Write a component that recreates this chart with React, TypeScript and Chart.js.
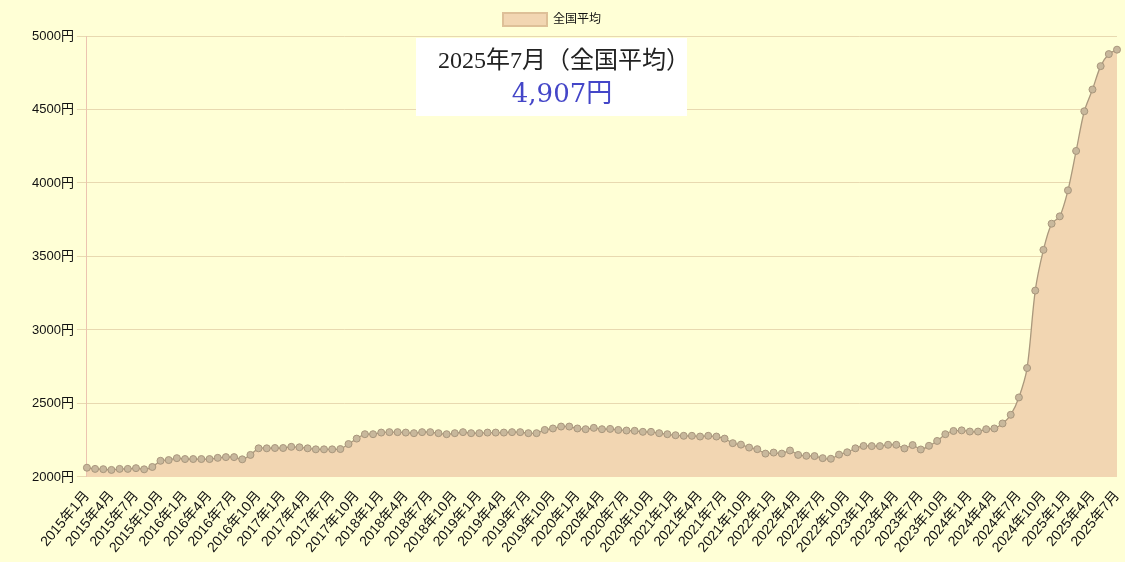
import React, { useEffect, useRef } from "react";
import { Chart, registerables } from "chart.js";

Chart.register(...registerables);

const SERIES_LABEL = "全国平均";
const YEARS = [2015, 2016, 2017, 2018, 2019, 2020, 2021, 2022, 2023, 2024, 2025];
const MONTHS = [1, 2, 3, 4, 5, 6, 7, 8, 9, 10, 11, 12];
const LAST_MONTH_2025 = 7;

const CATEGORIES: string[] = [];
YEARS.forEach((y) => {
  MONTHS.forEach((m) => {
    if (y === 2025 && m > LAST_MONTH_2025) return;
    CATEGORIES.push(`${y}年${m}月`);
  });
});

// 全国平均 (円)
const PRICES_2015 = [2063, 2055, 2053, 2048, 2055, 2055, 2060, 2052, 2068, 2110, 2115, 2128];
const PRICES_2016 = [2122, 2122, 2122, 2122, 2130, 2135, 2135, 2120, 2150, 2195, 2195, 2197];
const PRICES_2017 = [2197, 2205, 2202, 2195, 2188, 2188, 2188, 2190, 2224, 2261, 2291, 2291];
const PRICES_2018 = [2302, 2305, 2305, 2302, 2298, 2305, 2305, 2298, 2291, 2298, 2305, 2298];
const PRICES_2019 = [2298, 2302, 2302, 2302, 2305, 2305, 2298, 2298, 2320, 2330, 2343, 2343];
const PRICES_2020 = [2330, 2325, 2334, 2325, 2327, 2320, 2316, 2314, 2307, 2307, 2298, 2291];
const PRICES_2021 = [2284, 2280, 2280, 2275, 2280, 2275, 2261, 2230, 2220, 2200, 2189, 2159];
const PRICES_2022 = [2166, 2159, 2180, 2150, 2144, 2142, 2128, 2124, 2152, 2168, 2195, 2211];
const PRICES_2023 = [2210, 2210, 2219, 2219, 2194, 2217, 2187, 2212, 2245, 2291, 2313, 2317];
const PRICES_2024 = [2309, 2309, 2325, 2330, 2364, 2423, 2541, 2741, 3268, 3545, 3723, 3773];
const PRICES_2025 = [3950, 4218, 4488, 4636, 4795, 4877, 4907];

const PRICES = [
  ...PRICES_2015, ...PRICES_2016, ...PRICES_2017, ...PRICES_2018, ...PRICES_2019,
  ...PRICES_2020, ...PRICES_2021, ...PRICES_2022, ...PRICES_2023, ...PRICES_2024, ...PRICES_2025,
];

const Y_MIN = 2000;
const Y_MAX = 5000;
const Y_STEP = 500;
const Y_UNIT = "円";
const X_LABEL_EVERY = 3;

const CALLOUT_TITLE = "2025年7月（全国平均）";
const CALLOUT_VALUE = "4,907円";

const SANS = '"Liberation Sans", Arial, "Noto Sans CJK JP", sans-serif';

const legendShift = {
  id: "legendShift",
  afterLayout(chart: any) {
    const l = chart.legend;
    if (!l) return;
    l.left -= 21;
    l.right -= 21;
    if (l.legendHitBoxes) l.legendHitBoxes.forEach((b: any) => (b.left -= 21));
  },
};

export default function App() {
  const canvasRef = useRef<HTMLCanvasElement | null>(null);

  useEffect(() => {
    if (!canvasRef.current) return;
    const chart = new Chart(canvasRef.current, {
      type: "line",
      plugins: [legendShift],
      data: {
        labels: CATEGORIES,
        datasets: [
          {
            label: SERIES_LABEL,
            data: PRICES,
            fill: "start",
            backgroundColor: "rgb(242, 214, 178)",
            borderColor: "rgb(170, 152, 124)",
            borderWidth: 1.3,
            pointRadius: 3.5,
            pointBackgroundColor: "rgb(200, 184, 156)",
            pointBorderColor: "rgb(168, 150, 124)",
            pointBorderWidth: 1,
            tension: 0.3,
          },
        ],
      },
      options: {
        responsive: true,
        maintainAspectRatio: false,
        animation: false,
        layout: { padding: { left: 29, right: 8, top: 3, bottom: 3 } },
        plugins: {
          legend: {
            display: true,
            position: "top",
            labels: {
              color: "#111",
              font: { size: 12, family: SANS },
              boxWidth: 44,
              boxHeight: 13,
              generateLabels: (ch: any) => {
                const items = Chart.defaults.plugins.legend.labels.generateLabels(ch);
                items.forEach((it: any) => {
                  it.strokeStyle = "rgb(222, 192, 152)";
                  it.lineWidth = 2;
                  it.fillStyle = "rgb(242, 214, 178)";
                });
                return items;
              },
            },
          },
          tooltip: { enabled: false },
        },
        scales: {
          x: {
            grid: { display: false },
            border: { display: false },
            afterFit: (scale: any) => {
              scale.paddingRight = 0;
            },
            ticks: {
              autoSkip: false,
              minRotation: 50,
              maxRotation: 50,
              color: "#111",
              font: { size: 14, family: SANS },
              callback: (_v: any, i: number) => (i % X_LABEL_EVERY === 0 ? CATEGORIES[i] : ""),
            },
          },
          y: {
            min: Y_MIN,
            max: Y_MAX,
            ticks: {
              stepSize: Y_STEP,
              color: "#111",
              font: { size: 13, family: SANS },
              callback: (v: any) => `${v}${Y_UNIT}`,
            },
            grid: { color: "rgba(214, 186, 146, 0.55)", tickLength: 10 },
            border: { color: "rgba(236, 196, 176, 1)" },
          },
        },
      },
    });
    return () => chart.destroy();
  }, []);

  return (
    <div
      style={{
        position: "fixed",
        left: 0,
        top: 0,
        width: 1125,
        height: 562,
        background: "rgb(255, 255, 214)",
      }}
    >
      <div style={{ position: "absolute", left: 0, top: 0, width: 1125, height: 562 }}>
        <canvas ref={canvasRef} />
      </div>
      <div
        style={{
          position: "absolute",
          left: 416,
          top: 38,
          width: 271,
          height: 78,
          background: "#ffffff",
        }}
      >
        <div
          style={{
            position: "absolute",
            left: -52,
            width: 400,
            top: 8,
            textAlign: "center",
            fontFamily: '"Liberation Serif", "Noto Sans CJK JP", serif',
            fontSize: 24,
            lineHeight: "28px",
            color: "#222",
            whiteSpace: "nowrap",
          }}
        >
          {CALLOUT_TITLE}
        </div>
        <div
          style={{
            position: "absolute",
            left: -54,
            width: 400,
            top: 39,
            textAlign: "center",
            fontFamily: '"DejaVu Serif", "Noto Sans CJK JP", serif',
            fontSize: 26,
            lineHeight: "32px",
            color: "rgb(68, 70, 200)",
            whiteSpace: "nowrap",
          }}
        >
          {CALLOUT_VALUE}
        </div>
      </div>
    </div>
  );
}
